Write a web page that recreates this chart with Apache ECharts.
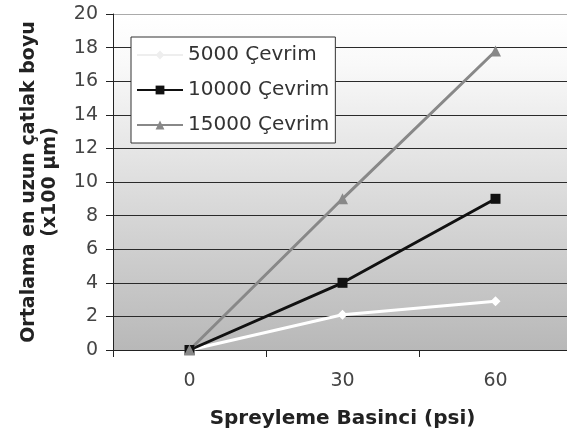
<!DOCTYPE html>
<html>

<head>
  <meta charset="UTF-8">
  <title>Çatlak boyu</title>
</head>

<body style="margin:0">
  <div id="main" style="width: 567px; height: 437px;"></div>
  <script src="https://cdn.jsdelivr.net/npm/echarts@6.0.0/dist/echarts.min.js"></script>
  <script>
    // Spreyleme basinci kategorileri ve seriler
    const pressures = ['0', '30', '60'];
    const cycles5000 = [0, 2.1, 2.9];
    const cycles10000 = [0, 4.0, 9.0];
    const cycles15000 = [0, 9.0, 17.8];
    const seriesNames = ['5000 Çevrim', '10000 Çevrim', '15000 Çevrim'];

    const font = 'DejaVu Sans, Verdana, sans-serif';
    const chart = echarts.init(document.getElementById('main'));

    const splitColors = [];
    for (let i = 0; i < 11; i++) splitColors.push(i === 10 ? '#aaa' : '#2a2a2a');

    chart.setOption({
      animation: false,
      grid: {
        left: 113,
        right: -5,
        top: 14,
        bottom: 87,
        outerBoundsMode: 'none',
        containLabel: false,
        show: true,
        borderWidth: 0,
        backgroundColor: new echarts.graphic.LinearGradient(0, 0, 0, 1, [
          { offset: 0, color: '#ffffff' },
          { offset: 0.15, color: '#f9f9f9' },
          { offset: 1, color: '#b8b8b8' }
        ])
      },
      legend: {
        orient: 'vertical',
        left: 131,
        top: 37,
        padding: [8, 6, 8, 5],
        itemGap: 15,
        itemWidth: 46,
        itemHeight: 11,
        backgroundColor: '#fff',
        borderColor: '#333',
        borderWidth: 1,
        borderRadius: 0,
        textStyle: { fontFamily: font, fontSize: 20, color: '#333' },
        data: [
          { name: seriesNames[0], lineStyle: { color: '#eee' }, itemStyle: { color: '#eee' } },
          { name: seriesNames[1] },
          { name: seriesNames[2] }
        ]
      },
      xAxis: {
        type: 'category',
        data: pressures,
        boundaryGap: true,
        name: 'Spreyleme Basinci (psi)',
        nameLocation: 'middle',
        nameGap: 59,
        nameTextStyle: { fontFamily: font, fontSize: 20, fontWeight: 'bold', color: '#222' },
        axisLine: { lineStyle: { color: '#222', width: 1 } },
        axisTick: { show: true, length: 7, inside: false, lineStyle: { color: '#222' } },
        axisLabel: { fontFamily: font, fontSize: 19, color: '#444', margin: 22 }
      },
      yAxis: {
        type: 'value',
        min: 0,
        max: 20,
        interval: 2,
        name: 'Ortalama en uzun çatlak boyu\n(x100 µm)',
        nameLocation: 'middle',
        nameRotate: 90,
        nameGap: 52,
        nameTextStyle: { fontFamily: font, fontSize: 19, fontWeight: 'bold', color: '#222', lineHeight: 21 },
        axisLine: { show: true, lineStyle: { color: '#222', width: 1 } },
        axisTick: { show: true, length: 7, lineStyle: { color: '#222' } },
        axisLabel: { fontFamily: font, fontSize: 19, color: '#444', margin: 15 },
        splitLine: { lineStyle: { color: splitColors, width: 1 } }
      },
      series: [
        {
          name: seriesNames[0],
          type: 'line',
          data: cycles5000,
          symbol: 'diamond',
          symbolSize: 10,
          lineStyle: { color: '#fff', width: 3 },
          itemStyle: { color: '#fff' }
        },
        {
          name: seriesNames[1],
          type: 'line',
          data: cycles10000,
          symbol: 'rect',
          symbolSize: 10,
          lineStyle: { color: '#111', width: 3 },
          itemStyle: { color: '#111' }
        },
        {
          name: seriesNames[2],
          type: 'line',
          data: cycles15000,
          symbol: 'triangle',
          symbolSize: 11,
          lineStyle: { color: '#888', width: 3 },
          itemStyle: { color: '#888' }
        }
      ]
    });
  </script>
</body>

</html>
